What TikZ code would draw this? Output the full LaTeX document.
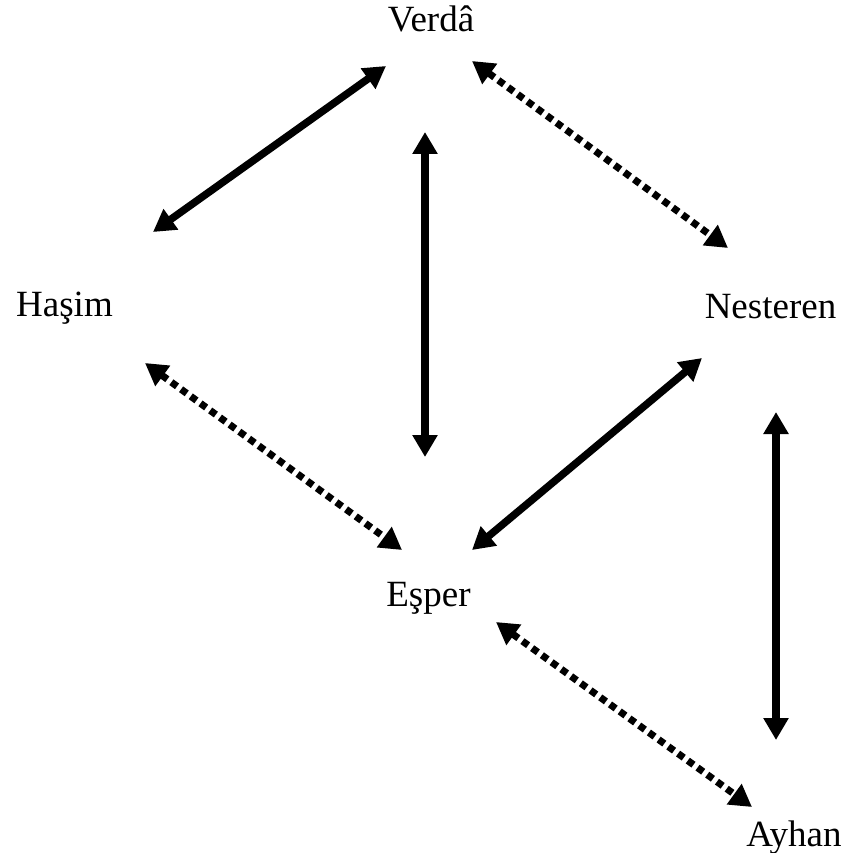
\documentclass[tikz,border=0pt]{standalone}
\usepackage{fontspec}
\setmainfont{Liberation Serif}
\usetikzlibrary{arrows.meta}
\tikzset{
  person/.style={anchor=base, inner sep=0pt, font=\fontsize{37}{44}\selectfont},
  link/.style={line width=7.5pt, {Triangle[width=24pt,length=22pt]}-{Triangle[width=24pt,length=22pt]}},
  solidlink/.style={link},
  dotlink/.style={link, line width=7pt, dash pattern=on 7pt off 5pt},
}
\begin{document}
\begin{tikzpicture}[x=1pt, y=-1pt]
  \useasboundingbox (0,0) rectangle (846,853);
  \node[person] (v) at (431,32)  {Verdâ};
  \node[person] (h) at (64.5,316) {Haşim};
  \node[person] (n) at (770.5,318) {Nesteren};
  \node[person] (e) at (428.5,606) {Eşper};
  \node[person] (a) at (794,846) {Ayhan};

  \draw[solidlink] ([shift={(-45,34)}]v.base) -- ([shift={(88.5,-84)}]h.base);
  \draw[dotlink]   ([shift={(41,29)}]v.base) -- ([shift={(-42.5,-70)}]n.base);
  \draw[solidlink] ([shift={(-6,100)}]v.base) -- ([shift={(-3.5,-149)}]e.base);
  \draw[dotlink]   ([shift={(80.5,47)}]h.base) -- ([shift={(-26.5,-56)}]e.base);
  \draw[solidlink] ([shift={(-68.5,40)}]n.base) -- ([shift={(43.5,-56)}]e.base);
  \draw[solidlink] ([shift={(5.5,94)}]n.base) -- ([shift={(-18,-106)}]a.base);
  \draw[dotlink]   ([shift={(67.5,16)}]e.base) -- ([shift={(-42,-39)}]a.base);
\end{tikzpicture}
\end{document}
